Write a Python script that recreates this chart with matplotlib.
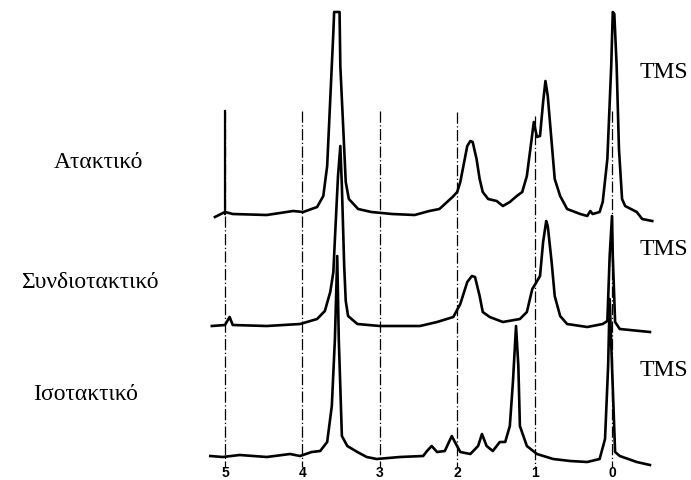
import matplotlib
matplotlib.use("Agg")
import matplotlib.pyplot as plt

# chemical shift (ppm) and intensity above each trace's baseline
atactic_ppm = [5.13, 5.00, 4.90, 4.46, 4.12, 3.99, 3.81, 3.73, 3.68, 3.64, 3.60, 3.59,
               3.52, 3.51, 3.47, 3.44, 3.40, 3.28, 3.11, 2.84, 2.55, 2.36, 2.23, 2.06,
               2.00, 1.96, 1.92, 1.87, 1.83, 1.80, 1.75, 1.71, 1.67, 1.60, 1.49, 1.41,
               1.32, 1.23, 1.16, 1.10, 1.05, 1.01, 0.97, 0.93, 0.89, 0.86, 0.83, 0.78,
               0.74, 0.67, 0.58, 0.41, 0.32, 0.28, 0.25, 0.16, 0.12, 0.06, 0.01, -0.01,
               -0.03, -0.06, -0.09, -0.13, -0.17, -0.32, -0.39, -0.52]
atactic_int = [-3, 2, 0, -1, 3, 2, 7, 18, 48, 115, 182, 202,
               202, 148, 82, 32, 15, 5, 2, 0, -1, 3, 5, 17,
               22, 32, 48, 68, 73, 72, 55, 35, 22, 15, 13, 8,
               12, 18, 22, 38, 68, 92, 77, 78, 112, 133, 118, 72,
               35, 18, 5, 0, -2, 3, 0, 2, 12, 55, 148, 202,
               200, 148, 65, 15, 8, 2, -5, -7]

syndio_ppm = [5.17, 5.00, 4.94, 4.90, 4.46, 4.03, 3.81, 3.71, 3.64, 3.60, 3.58, 3.54,
              3.51, 3.49, 3.46, 3.44, 3.41, 3.29, 3.00, 2.48, 2.26, 2.05, 1.96, 1.87,
              1.81, 1.77, 1.71, 1.67, 1.58, 1.41, 1.19, 1.10, 1.03, 0.99, 0.93, 0.89,
              0.85, 0.83, 0.78, 0.74, 0.67, 0.58, 0.32, 0.12, 0.06, 0.03, 0.00, -0.01,
              -0.04, -0.10, -0.49]
syndio_int = [0, 1, 9, 1, 0, 2, 7, 15, 34, 54, 87, 150,
              180, 140, 60, 25, 10, 2, 0, 0, 4, 9, 22, 44,
              50, 49, 30, 14, 9, 4, 7, 14, 37, 42, 50, 84,
              105, 100, 64, 30, 10, 2, -1, 2, 5, 70, 110, 70,
              4, -3, -6]

iso_ppm = [5.19, 5.03, 4.81, 4.46, 4.16, 4.03, 3.88, 3.77, 3.68, 3.62, 3.58, 3.55,
           3.53, 3.49, 3.42, 3.29, 3.17, 3.04, 2.74, 2.44, 2.39, 2.33, 2.26, 2.16,
           2.07, 2.03, 1.96, 1.83, 1.73, 1.68, 1.62, 1.54, 1.45, 1.38, 1.32, 1.28,
           1.24, 1.21, 1.19, 1.10, 0.97, 0.76, 0.54, 0.32, 0.16, 0.09, 0.05, 0.03,
           0.00, -0.04, -0.10, -0.32, -0.49]
iso_int = [0, -1, 1, -1, 2, 0, 4, 5, 14, 50, 117, 200,
           117, 20, 10, 4, -1, -3, -1, 0, 5, 10, 4, 5,
           20, 14, 4, 2, 10, 22, 10, 5, 14, 14, 30, 74,
           130, 90, 30, 10, 2, -3, -5, -6, -3, 17, 90, 157,
           90, 4, 0, -6, -9]

names = ["Ατακτικό", "Συνδιοτακτικό", "Ισοτακτικό"]
ref_ticks = [5, 4, 3, 2, 1, 0]

W, H = 691, 481
fig = plt.figure(figsize=(W / 100, H / 100), dpi=100)
ax = fig.add_axes([0, 0, 1, 1])
ax.set_xlim(612 / 77.4, (612 - W) / 77.4)
ax.set_ylim(H, 0)
ax.axis("off")

# reference lines at whole ppm values
for t, top in zip(ref_ticks, [112, 112, 112, 113, 117, 112]):
    ax.plot([t, t], [top, 468], color="black", lw=0.9, ls=(0, (9, 2, 1, 2)))
    ax.text(t, 473, str(t), ha="center", va="center", fontsize=10,
            fontweight="bold", family="Liberation Sans")
ax.plot([5, 5], [112, 215], color="black", lw=1.6)

baselines = [215, 327, 457]
traces = [(atactic_ppm, atactic_int), (syndio_ppm, syndio_int), (iso_ppm, iso_int)]
for (p, v), b in zip(traces, baselines):
    ax.plot(p, [b - i for i in v], color="black", lw=1.9, solid_joinstyle="round")

for name, x, y in zip(names, [98, 90, 86], [162, 283, 394]):
    fig.text(x / W, 1 - y / H, name, ha="center", va="center",
             fontsize=17, family="Liberation Serif")
for y in [72, 250, 370]:
    fig.text(664 / W, 1 - y / H, "TMS", ha="center", va="center",
             fontsize=17, family="Liberation Serif")

fig.savefig("out.png", dpi=100)
